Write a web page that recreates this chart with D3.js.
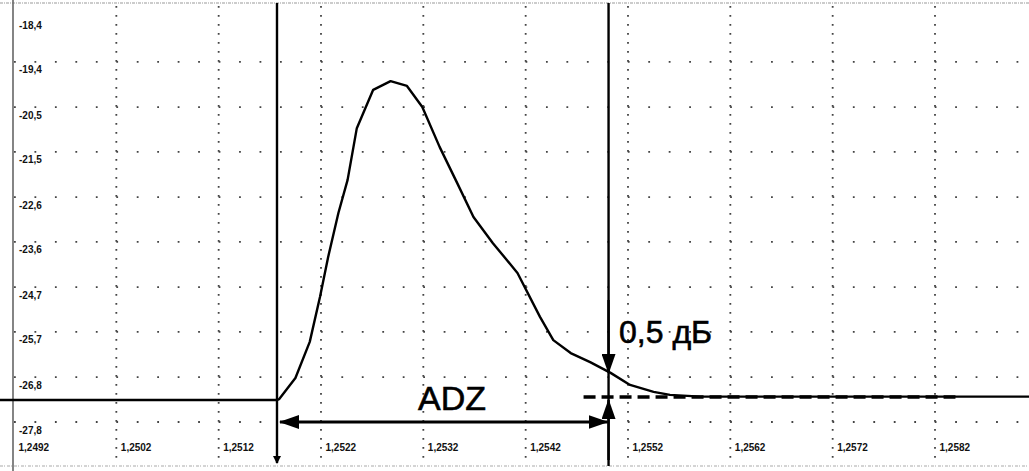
<!DOCTYPE html>
<html>
<head>
<meta charset="utf-8">
<script src="https://cdn.jsdelivr.net/npm/d3@7"></script>
<style>
  body { margin: 0; background: #fff; }
  svg { display: block; }
</style>
</head>
<body>
<div id="chart"></div>
<script>
// Tick values (labels are printed with a decimal comma)
const xTicks = [1.2492, 1.2502, 1.2512, 1.2522, 1.2532, 1.2542, 1.2552, 1.2562, 1.2572, 1.2582];
const yTicks = [-18.40, -19.44, -20.49, -21.53, -22.58, -23.62, -24.67, -25.71, -26.76, -27.80];

// Reflectogram trace
const traceX = [1.24906, 1.25177, 1.25179, 1.25195, 1.25209, 1.25219, 1.25227, 1.25237, 1.25246,
                1.25255, 1.25271, 1.25288, 1.25304, 1.25319, 1.25336, 1.25353, 1.25369, 1.25388,
                1.25412, 1.25434, 1.25447, 1.25464, 1.25483, 1.25503, 1.25522, 1.25545, 1.25561,
                1.25591, 1.25912];
const traceY = [-27.29, -27.29, -27.27, -26.78, -25.94, -24.90, -23.97, -22.95, -22.18,
                -20.98, -20.09, -19.89, -20.00, -20.49, -21.42, -22.25, -23.04, -23.65,
                -24.34, -25.36, -25.90, -26.20, -26.41, -26.66, -26.94, -27.10, -27.17,
                -27.21, -27.21];

// Annotation: dead zone cursors and the 0.5 dB level
const cursorStart = 1.25177;
const cursorEnd = 1.25501;
const levelBase = -27.22;
const levelDashEnd = 1.25840;
const adzLevel = -27.80;

const width = 1029, height = 471;

const svg = d3.select("#chart")
    .append("svg")
    .attr("width", width)
    .attr("height", height);

// Scales: x ticks every ~102 px, y rows every 45 px
const xScale = d3.scaleLinear()
    .domain([xTicks[0], xTicks[xTicks.length - 1]])
    .range([14, 935]);

const yScale = d3.scaleLinear()
    .domain([yTicks[0], yTicks[yTicks.length - 1]])
    .range([17, 422]);

const fmt = d => d3.format(".4~f")(d).replace(".", ",").replace("−", "-");
const fmtY = d => d3.format(".1f")(d).replace(".", ",").replace("−", "-");

// Frame (scanned look: grey borders)
svg.append("line")
    .attr("x1", 0).attr("x2", width).attr("y1", 3).attr("y2", 3)
    .attr("stroke", "#999").attr("stroke-width", 1.2).attr("stroke-dasharray", "3,1,1,1");
svg.append("line")
    .attr("x1", 0).attr("x2", width).attr("y1", 466).attr("y2", 466)
    .attr("stroke", "#aaa").attr("stroke-width", 1.2).attr("stroke-dasharray", "3,1,1,2");
svg.append("line")
    .attr("x1", 13).attr("x2", 13).attr("y1", 0).attr("y2", height)
    .attr("stroke", "#666").attr("stroke-width", 1.6);

// Dotted grid
svg.append("g")
    .selectAll("line")
    .data(xTicks.slice(1))
    .enter().append("line")
    .attr("x1", d => xScale(d)).attr("x2", d => xScale(d))
    .attr("y1", 6).attr("y2", 464)
    .attr("stroke", "#444")
    .attr("stroke-width", 1.8)
    .attr("stroke-dasharray", "1.8,7.2");

svg.append("g")
    .selectAll("line")
    .data(yTicks.slice(1))
    .enter().append("line")
    .attr("x1", 14).attr("x2", width)
    .attr("y1", d => yScale(d)).attr("y2", d => yScale(d))
    .attr("stroke", "#444")
    .attr("stroke-width", 1.8)
    .attr("stroke-dasharray", "1.8,18.66");

// Y axis labels (inside the plot, below each row)
const yAxis = svg.append("g")
    .attr("transform", "translate(16,0)")
    .call(d3.axisRight(yScale).tickValues(yTicks).tickFormat(fmtY).tickSize(0));
yAxis.select(".domain").remove();
yAxis.selectAll("text")
    .attr("x", 3)
    .attr("dy", "0")
    .attr("y", 11)
    .attr("font-family", "Liberation Sans, Arial, sans-serif")
    .attr("font-weight", "bold")
    .attr("font-size", 10)
    .attr("fill", "#111");

// X axis labels (left aligned at each column)
const xAxis = svg.append("g")
    .attr("transform", "translate(0,451)")
    .call(d3.axisBottom(xScale).tickValues(xTicks).tickFormat(fmt).tickSize(0));
xAxis.select(".domain").remove();
xAxis.selectAll("text")
    .attr("text-anchor", "start")
    .attr("x", 4)
    .attr("y", 0)
    .attr("dy", "0")
    .attr("font-family", "Liberation Sans, Arial, sans-serif")
    .attr("font-weight", "bold")
    .attr("font-size", 10)
    .attr("fill", "#111");

// Arrow head markers
const defs = svg.append("defs");
defs.append("marker")
    .attr("id", "head")
    .attr("markerUnits", "userSpaceOnUse")
    .attr("markerWidth", 20).attr("markerHeight", 14)
    .attr("refX", 19).attr("refY", 7)
    .attr("orient", "auto-start-reverse")
  .append("path")
    .attr("d", "M0,0 L20,7 L0,14 Z")
    .attr("fill", "#000");
defs.append("marker")
    .attr("id", "small")
    .attr("markerUnits", "userSpaceOnUse")
    .attr("markerWidth", 8).attr("markerHeight", 8)
    .attr("refX", 7).attr("refY", 4)
    .attr("orient", "auto")
  .append("path")
    .attr("d", "M0,0 L8,4 L0,8 Z")
    .attr("fill", "#000");

// Trace
const line = d3.line()
    .x((d, i) => xScale(traceX[i]))
    .y(d => yScale(d));

svg.append("path")
    .datum(traceY)
    .attr("d", line)
    .attr("fill", "none")
    .attr("stroke", "#000")
    .attr("stroke-width", 2.4)
    .attr("stroke-linejoin", "round");

// Cursors
svg.append("line")
    .attr("x1", xScale(cursorStart)).attr("x2", xScale(cursorStart))
    .attr("y1", 3).attr("y2", 463)
    .attr("stroke", "#000").attr("stroke-width", 2.4)
    .attr("marker-end", "url(#small)");

svg.append("line")
    .attr("x1", xScale(cursorEnd)).attr("x2", xScale(cursorEnd))
    .attr("y1", 3).attr("y2", 466)
    .attr("stroke", "#000").attr("stroke-width", 2.4);

// 0.5 dB level: dashed reference line and the two vertical arrows
svg.append("line")
    .attr("x1", xScale(cursorEnd) - 25).attr("x2", xScale(levelDashEnd))
    .attr("y1", yScale(levelBase)).attr("y2", yScale(levelBase))
    .attr("stroke", "#000").attr("stroke-width", 3.5)
    .attr("stroke-dasharray", "12,6");

svg.append("line")
    .attr("x1", xScale(cursorEnd)).attr("x2", xScale(cursorEnd))
    .attr("y1", 300).attr("y2", yScale(-26.66))
    .attr("stroke", "#000").attr("stroke-width", 2.4)
    .attr("marker-end", "url(#head)");

svg.append("line")
    .attr("x1", xScale(cursorEnd)).attr("x2", xScale(cursorEnd))
    .attr("y1", 460).attr("y2", yScale(levelBase) + 3)
    .attr("stroke", "#000").attr("stroke-width", 2.4)
    .attr("marker-end", "url(#head)");

// ADZ double arrow
svg.append("line")
    .attr("x1", xScale(cursorStart) + 3).attr("x2", xScale(cursorEnd) - 1)
    .attr("y1", yScale(adzLevel)).attr("y2", yScale(adzLevel))
    .attr("stroke", "#000").attr("stroke-width", 3.2)
    .attr("marker-start", "url(#head)")
    .attr("marker-end", "url(#head)");

// Labels
svg.append("text")
    .attr("x", 418).attr("y", 410)
    .attr("font-family", "Liberation Sans, Arial, sans-serif")
    .attr("font-size", 34)
    .attr("fill", "#000")
    .attr("stroke", "#000").attr("stroke-width", 0.6)
    .text("ADZ");

svg.append("text")
    .attr("x", 619).attr("y", 343)
    .attr("font-family", "Liberation Sans, Arial, sans-serif")
    .attr("font-size", 32)
    .attr("fill", "#000")
    .attr("stroke", "#000").attr("stroke-width", 0.6)
    .text("0,5 дБ");
</script>
</body>
</html>
